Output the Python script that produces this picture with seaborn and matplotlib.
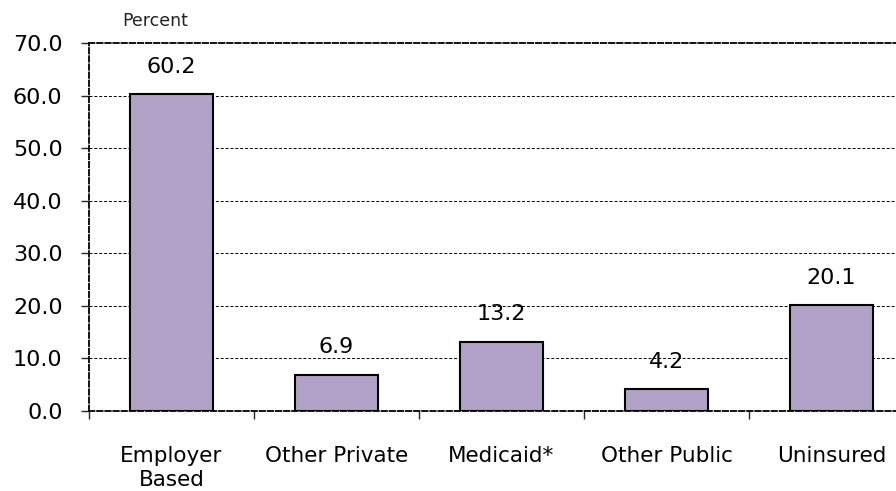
import matplotlib
matplotlib.use("Agg")
import matplotlib.pyplot as plt
import pandas as pd
import seaborn as sns

categories = ["Employer\nBased", "Other Private", "Medicaid*", "Other Public", "Uninsured"]
percent = [60.2, 6.9, 13.2, 4.2, 20.1]
y_ticks = [0, 10, 20, 30, 40, 50, 60, 70]

df = pd.DataFrame({"category": categories, "percent": percent})

sns.set_theme(style="white")
plt.rcParams["font.family"] = ["DejaVu Sans"]

fig = plt.figure(figsize=(8.96, 4.91), dpi=100)
ax = fig.add_axes([0.0993, 0.163, 0.9208, 0.7495])

sns.barplot(data=df, x="category", y="percent", color="#B3A2C7", saturation=1,
            width=0.5, edgecolor="black", linewidth=1.5, ax=ax, zorder=2)

for i, v in enumerate(percent):
    ax.text(i, v + 5.2, f"{v:.1f}", ha="center", va="center", fontsize=16, color="black")

ax.set_xlim(-0.5, len(categories) - 0.5)
ax.set_ylim(0, 70)
ax.set_yticks(y_ticks)
ax.set_yticklabels([f"{t:.1f}" for t in y_ticks], fontsize=16)
ax.set_xticks(range(len(categories)))
ax.set_xticklabels(categories, fontsize=15.5, linespacing=1.3)
ax.set_xticks([i - 0.5 for i in range(len(categories) + 1)], minor=True)
ax.tick_params(axis="x", which="major", length=0, pad=25, labelcolor="black")
ax.tick_params(axis="x", which="minor", length=6, width=1, direction="out", bottom=True)
ax.tick_params(axis="y", which="major", length=6, width=1, direction="out", left=True,
               pad=13, labelcolor="black")
ax.set_xlabel("")
ax.set_ylabel("")

for t in y_ticks[1:-1]:
    ax.axhline(t, color="black", linestyle=(0, (3, 2)), linewidth=0.7, zorder=0)

for side in ["top", "left", "bottom", "right"]:
    ax.spines[side].set_color("black")
    ax.spines[side].set_linestyle((0, (3, 1.5)))
    ax.spines[side].set_linewidth(1.3)
ax.spines["bottom"].set_zorder(1)

fig.text(155 / 896, 1 - 21 / 491, "Percent", ha="center", va="center", fontsize=12.5, color="#222222")

fig.savefig("out.png", dpi=100)
